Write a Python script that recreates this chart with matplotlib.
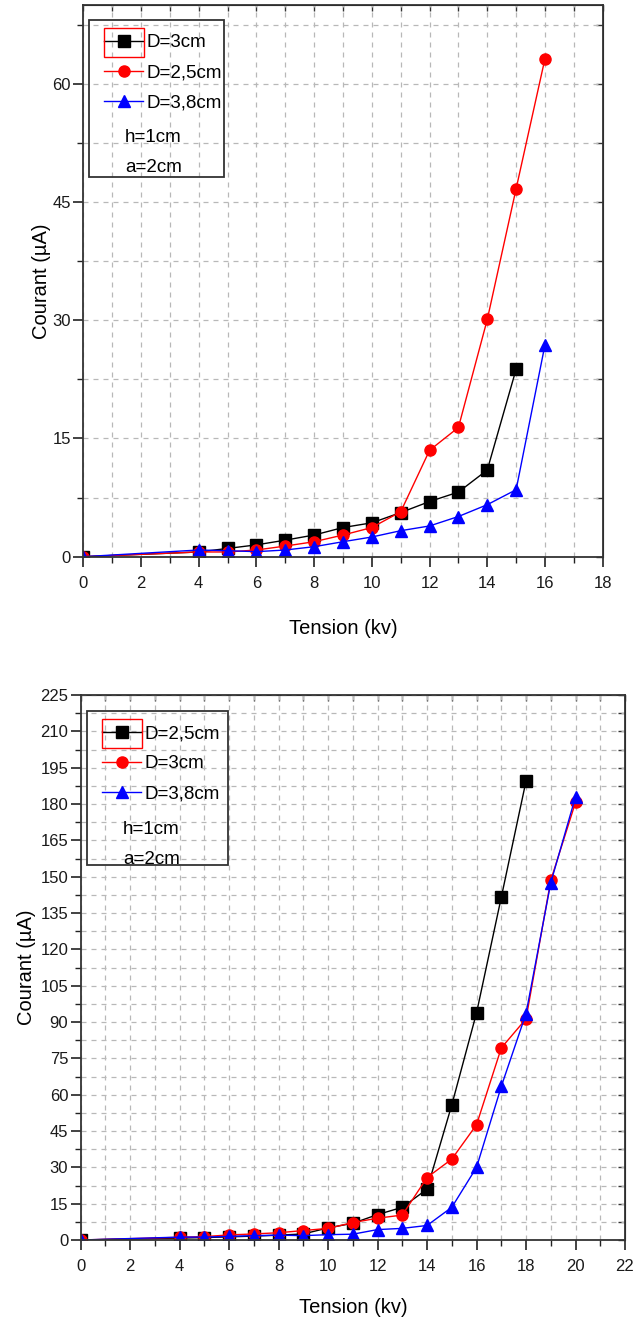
import matplotlib
matplotlib.use("Agg")
import matplotlib.pyplot as plt
from matplotlib.ticker import MultipleLocator
from matplotlib.patches import Rectangle
from matplotlib.lines import Line2D

plt.rcParams['font.family'] = ['Liberation Sans', 'DejaVu Sans']
TICK_FS, LABEL_FS, LEG_FS = 12, 14.5, 13.5

W, H = 633, 1321

# --- top chart (h=1cm, a=2cm) ---
top_tension_d3 = [0, 4, 5, 6, 7, 8, 9, 10, 11, 12, 13, 14, 15]
top_courant_d3 = [0, 0.6, 1.05, 1.5, 2.1, 2.75, 3.7, 4.3, 5.6, 7.0, 8.2, 11.0, 23.8]
top_tension_d25 = [0, 4, 5, 6, 7, 8, 9, 10, 11, 12, 13, 14, 15, 16]
top_courant_d25 = [0, 0.6, 0.6, 0.85, 1.35, 1.9, 2.75, 3.7, 5.7, 13.5, 16.4, 30.1, 46.7, 63.2]
top_tension_d38 = [0, 4, 5, 6, 7, 8, 9, 10, 11, 12, 13, 14, 15, 16]
top_courant_d38 = [0, 0.85, 0.76, 0.64, 0.85, 1.27, 1.9, 2.5, 3.3, 3.9, 5.1, 6.6, 8.5, 26.9]

# --- bottom chart ---
bot_tension_d25 = [0, 4, 5, 6, 7, 8, 9, 10, 11, 12, 13, 14, 15, 16, 17, 18]
bot_courant_d25 = [0, 0.8, 1.0, 1.3, 1.6, 2.0, 2.5, 5.0, 6.9, 10.5, 13.5, 21.0, 55.8, 93.8, 141.5, 189.5]
bot_tension_d3 = [0, 4, 5, 6, 7, 8, 9, 10, 11, 12, 13, 14, 15, 16, 17, 18, 19, 20]
bot_courant_d3 = [0, 1.1, 1.4, 2.1, 2.5, 3.0, 3.9, 4.8, 7.2, 9.0, 10.3, 25.8, 33.4, 47.6, 79.3, 91.3, 148.5, 180.7]
bot_tension_d38 = [0, 4, 5, 6, 7, 8, 9, 10, 11, 12, 13, 14, 15, 16, 17, 18, 19, 20]
bot_courant_d38 = [0, 1.2, 1.2, 1.5, 1.8, 2.0, 1.8, 2.2, 2.4, 4.3, 4.8, 6.0, 13.5, 30.0, 63.4, 93.5, 147.5, 183.0]

fig = plt.figure(figsize=(W / 100, H / 100), dpi=100)


def px_rect(left, top, right, bottom):
    # pixel box (from top-left) -> figure fraction [l, b, w, h]
    return [left / W, 1 - bottom / H, (right - left) / W, (bottom - top) / H]


def style_axes(ax, xmax, ymax, xlabelpad):
    ax.set_xlim(0, xmax)
    ax.set_ylim(0, ymax)
    ax.xaxis.set_major_locator(MultipleLocator(2))
    ax.xaxis.set_minor_locator(MultipleLocator(1))
    ax.yaxis.set_major_locator(MultipleLocator(15))
    ax.yaxis.set_minor_locator(MultipleLocator(7.5))
    ax.grid(which='both', linestyle=(0, (4, 4)), color='#b8b8b8', linewidth=0.9)
    ax.set_axisbelow(True)
    ax.tick_params(which='both', direction='out', top=False, right=False,
                   labelsize=TICK_FS, color='#222222', labelcolor='#1a1a1a')
    ax.tick_params(axis='x', which='major', pad=7)
    ax.tick_params(axis='y', which='major', pad=2)
    ax.tick_params(which='major', length=7, width=1.2)
    ax.tick_params(which='minor', length=4, width=1.0)
    for s in ax.spines.values():
        s.set_color('#333333')
        s.set_linewidth(1.3)
    sx = ax.secondary_xaxis('top')
    sx.xaxis.set_major_locator(MultipleLocator(1))
    sx.tick_params(direction='in', length=4, width=1.0, labeltop=False, color='#333333')
    sy = ax.secondary_yaxis('right')
    sy.yaxis.set_major_locator(MultipleLocator(7.5))
    sy.tick_params(direction='in', length=5, width=1.0, labelright=False, color='#333333')
    ax.set_xlabel('Tension (kv)', fontsize=LABEL_FS, labelpad=xlabelpad)
    ax.set_ylabel('Courant (µA)', fontsize=LABEL_FS)


def add_legend(ax, labels, box):
    left, top, right, bottom = box
    handles = [
        Line2D([], [], color='black', marker='s', markersize=8, lw=1),
        Line2D([], [], color='red', marker='o', markersize=8, lw=1),
        Line2D([], [], color='blue', marker='^', markersize=8, lw=1),
    ]
    em = LEG_FS * 100 / 72
    ax.legend(handles, labels, loc='upper left', frameon=False,
              bbox_to_anchor=((left + 15) / W, 1 - (top + 14) / H),
              bbox_transform=fig.transFigure, borderaxespad=0, borderpad=0,
              fontsize=LEG_FS, handlelength=39 / em, handletextpad=4 / em,
              labelspacing=(31 - 0.96 * em) / em)
    l, b, w, h = px_rect(left, top, right, bottom)
    fig.add_artist(Rectangle((l, b), w, h, transform=fig.transFigure, fill=False,
                             edgecolor='#333333', linewidth=1.3, zorder=5))
    # red selection box around the first handle
    l, b, w, h = px_rect(left + 15, top + 8, left + 55, top + 37)
    fig.add_artist(Rectangle((l, b), w, h, transform=fig.transFigure, fill=False,
                             edgecolor='red', linewidth=1.0, zorder=6))
    fig.text((left + 36) / W, 1 - (top + 118) / H, 'h=1cm', fontsize=LEG_FS, va='center')
    fig.text((left + 36) / W, 1 - (top + 148) / H, 'a=2cm', fontsize=LEG_FS, va='center')


# top chart
ax1 = fig.add_axes(px_rect(83.3, 5, 602.7, 556.7))
ax1.plot(top_tension_d3, top_courant_d3, color='black', marker='s', markersize=8, lw=1)
ax1.plot(top_tension_d25, top_courant_d25, color='red', marker='o', markersize=8, lw=1)
ax1.plot(top_tension_d38, top_courant_d38, color='blue', marker='^', markersize=8, lw=1)
style_axes(ax1, 18, 70, 20)
ax1.yaxis.set_label_coords(-0.062, 0.5)
add_legend(ax1, ['D=3cm', 'D=2,5cm', 'D=3,8cm'], (89, 20, 224, 177))

# bottom chart
ax2 = fig.add_axes(px_rect(80.7, 695, 625, 1240))
ax2.plot(bot_tension_d25, bot_courant_d25, color='black', marker='s', markersize=8, lw=1)
ax2.plot(bot_tension_d3, bot_courant_d3, color='red', marker='o', markersize=8, lw=1)
ax2.plot(bot_tension_d38, bot_courant_d38, color='blue', marker='^', markersize=8, lw=1)
style_axes(ax2, 22, 225, 17)
ax2.yaxis.set_label_coords(-0.082, 0.5)
add_legend(ax2, ['D=2,5cm', 'D=3cm', 'D=3,8cm'], (87, 711, 228, 865))

fig.savefig('out.png', dpi=100, facecolor='white')
